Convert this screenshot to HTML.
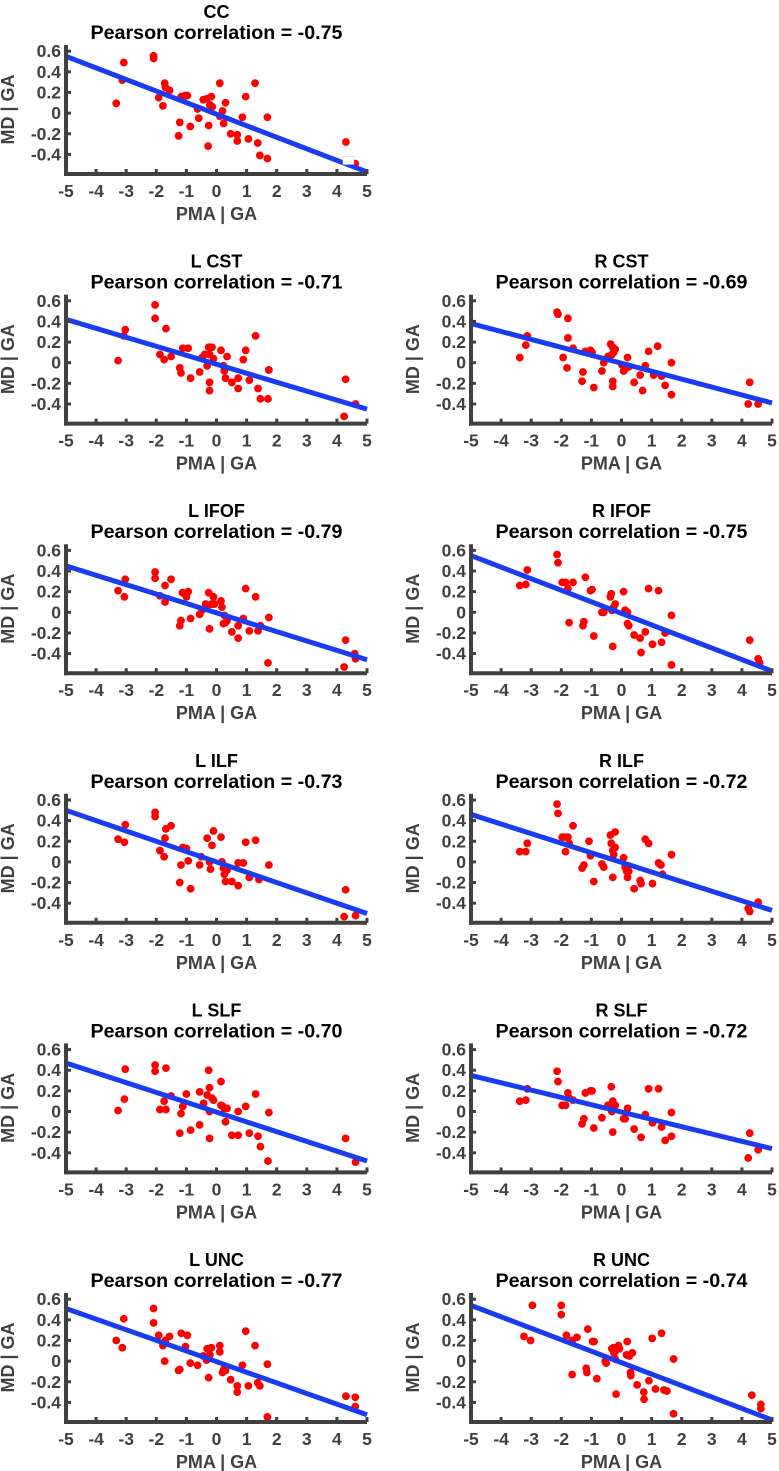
<!DOCTYPE html>
<html><head><meta charset="utf-8"><style>
html,body{margin:0;padding:0;background:#fff;}
svg{display:block;font-family:"Liberation Sans",Arial,sans-serif;font-weight:bold;}
</style></head><body>
<svg id="fig" width="779" height="1471" viewBox="0 0 779 1471" xmlns="http://www.w3.org/2000/svg"></svg>
<script>
// ---- data ----
const xTicks = [-5,-4,-3,-2,-1,0,1,2,3,4,5];
const yTicks = [0.6,0.4,0.2,0,-0.2,-0.4];
const yTickLabels = ["0.6","0.4","0.2","0","-0.2","-0.4"];
const panelNames = ["CC","L CST","R CST","L IFOF","R IFOF","L ILF","R ILF","L SLF","R SLF","L UNC","R UNC"];
const pearsonR = ["-0.75","-0.71","-0.69","-0.79","-0.75","-0.73","-0.72","-0.70","-0.72","-0.77","-0.74"];
const fitAtMinus5 = [0.55,0.42,0.38,0.45,0.55,0.50,0.46,0.47,0.35,0.51,0.54];
const fitAtPlus5 = [-0.57,-0.45,-0.39,-0.46,-0.57,-0.50,-0.47,-0.48,-0.36,-0.52,-0.57];

const ccX=[-3.33,-3.08,-3.13,-2.09,-2.09,-1.92,-1.78,-1.72,-1.7,-1.56,-1.22,-1.26,-1.17,-1.03,-0.97,-0.87,-0.63,-0.59,-0.44,-0.31,-0.26,-0.28,-0.22,-0.17,-0.14,0.11,0.11,0.2,0.24,0.3,0.47,0.69,0.69,0.86,0.97,1.06,1.28,1.37,1.44,1.69,1.69,4.3,4.61];
const ccY=[0.095,0.49,0.32,0.555,0.53,0.15,0.07,0.29,0.25,0.22,-0.09,-0.22,0.16,0.17,0.17,-0.13,0.04,-0.05,0.13,0.14,-0.12,-0.32,0.08,0.16,0.06,0.29,-0.03,0.02,-0.1,0.1,-0.2,-0.21,-0.27,-0.04,0.16,-0.25,0.29,-0.29,-0.41,-0.04,-0.44,-0.28,-0.49];

const lcstX=[-3.27,-3.03,-3.08,-2.04,-2.04,-1.88,-1.74,-1.68,-1.51,-1.22,-1.18,-1.12,-0.94,-0.86,-0.56,-0.48,-0.39,-0.31,-0.26,-0.23,-0.23,-0.23,-0.15,-0.1,0.15,0.23,0.26,0.3,0.35,0.51,0.72,0.72,0.89,0.97,1.09,1.3,1.38,1.46,1.71,1.74,4.24,4.29,4.62];
const lcstY=[0.02,0.32,0.26,0.56,0.43,0.08,0.03,0.33,0.06,-0.05,-0.1,0.14,0.14,-0.15,-0.09,0.05,0.08,-0.03,0.15,0.08,-0.19,-0.27,0.15,0.04,0.12,-0.03,-0.08,-0.15,0.06,-0.19,-0.15,-0.25,0.03,0.12,-0.17,0.26,-0.25,-0.35,-0.35,-0.07,-0.52,-0.16,-0.4];

const rcstX=[-3.38,-3.18,-3.13,-2.14,-2.11,-1.94,-1.81,-1.78,-1.78,-1.61,-1.31,-1.28,-1.2,-1.03,-0.98,-0.92,-0.65,-0.59,-0.45,-0.36,-0.29,-0.26,-0.21,-0.29,-0.29,-0.32,0.01,0.07,0.12,0.2,0.24,0.42,0.62,0.7,0.79,0.9,1.07,1.2,1.33,1.45,1.66,1.66,4.21,4.26,4.54];
const rcstY=[0.05,0.17,0.26,0.49,0.47,0.05,-0.05,0.43,0.24,0.14,-0.18,-0.09,0.11,0.12,0.1,-0.24,-0.08,0,0.06,0.18,0.15,0.1,0.13,-0.18,-0.23,0.08,-0.02,-0.08,-0.06,0.05,-0.04,-0.19,-0.12,-0.27,-0.03,0.11,-0.12,0.16,-0.13,-0.22,-0.31,0,-0.4,-0.19,-0.4];

const lifofX=[-3.27,-3.06,-3.03,-2.04,-2.04,-1.88,-1.71,-1.71,-1.51,-1.22,-1.18,-1.13,-1,-0.94,-0.86,-0.56,-0.48,-0.36,-0.31,-0.26,-0.23,-0.16,-0.1,-0.07,0.15,0.18,0.23,0.26,0.3,0.35,0.51,0.72,0.72,0.89,0.97,1.09,1.3,1.38,1.46,1.71,1.74,4.24,4.29,4.59,4.62];
const lifofY=[0.21,0.15,0.32,0.39,0.33,0.16,0.26,0.1,0.32,-0.13,-0.08,0.19,0.15,0.2,-0.06,-0.02,0.02,0.08,0.06,0.19,-0.16,0.08,0.15,0.08,0.11,0.05,-0.11,-0.03,-0.1,-0.08,-0.19,-0.13,-0.25,-0.06,0.23,-0.18,0.15,-0.18,-0.13,-0.49,-0.05,-0.53,-0.27,-0.4,-0.45];

const rifofX=[-3.38,-3.18,-3.13,-2.14,-2.11,-1.97,-1.86,-1.78,-1.74,-1.61,-1.28,-1.25,-1.2,-1.03,-0.98,-0.92,-0.65,-0.59,-0.37,-0.34,-0.32,-0.26,-0.21,-0.29,0.07,0.12,0.2,0.2,0.24,0.42,0.62,0.65,0.79,0.9,1.03,1.23,1.33,1.45,1.66,1.66,4.26,4.54,4.59];
const rifofY=[0.26,0.27,0.41,0.56,0.48,0.29,0.29,0.23,-0.1,0.29,-0.13,-0.09,0.34,0.21,0.22,-0.23,0,0,0.15,0.18,0.02,0.05,0.08,-0.33,0.2,0.02,0,-0.11,-0.13,-0.22,-0.25,-0.39,-0.19,0.23,-0.31,0.21,-0.29,-0.2,-0.03,-0.51,-0.27,-0.45,-0.49];

const lilfX=[-3.27,-3.06,-3.03,-2.04,-2.04,-1.88,-1.74,-1.71,-1.68,-1.51,-1.22,-1.18,-1.12,-1,-0.94,-0.86,-0.56,-0.51,-0.31,-0.23,-0.2,-0.15,-0.1,0.15,0.18,0.23,0.26,0.3,0.35,0.51,0.72,0.72,0.89,0.97,1.09,1.3,1.41,1.74,4.24,4.29,4.62];
const lilfY=[0.22,0.19,0.36,0.48,0.44,0.11,0.05,0.23,0.32,0.35,-0.2,-0.03,0.14,0.13,0.01,-0.26,-0.03,0.05,0.23,0,-0.07,0.16,0.3,0.24,0,-0.06,-0.12,-0.19,-0.08,-0.19,-0.01,-0.23,-0.01,0.19,-0.15,0.21,-0.17,-0.03,-0.53,-0.27,-0.52];

const rilfX=[-3.38,-3.18,-3.13,-2.14,-2.11,-1.97,-1.89,-1.86,-1.78,-1.74,-1.61,-1.31,-1.25,-1.08,-1.03,-0.92,-0.65,-0.59,-0.37,-0.34,-0.29,-0.26,-0.21,-0.21,-0.29,0.07,0.12,0.17,0.24,0.2,0.42,0.62,0.65,0.79,0.9,1.03,1.23,1.31,1.36,1.66,4.21,4.26,4.54];
const rilfY=[0.1,0.1,0.18,0.56,0.47,0.24,0.24,0.1,0.24,0.18,0.35,-0.06,-0.03,0.2,0.06,-0.19,-0.02,-0.05,0.26,0.18,0.11,0.07,0.14,0.29,-0.15,0.04,-0.05,-0.09,-0.09,-0.15,-0.26,-0.18,-0.21,0.22,0.18,-0.21,-0.01,-0.03,-0.12,0.07,-0.45,-0.48,-0.39];

const lslfX=[-3.27,-3.06,-3.03,-2.04,-2.04,-1.88,-1.74,-1.68,-1.68,-1.51,-1.22,-1.18,-1.12,-1,-0.86,-0.56,-0.56,-0.43,-0.31,-0.26,-0.23,-0.23,-0.23,-0.15,-0.1,0.15,0.15,0.21,0.26,0.3,0.35,0.51,0.72,0.72,0.97,1.09,1.3,1.38,1.46,1.71,1.74,4.29,4.62];
const lslfY=[0.01,0.12,0.41,0.45,0.39,0.02,0.1,0.42,0.02,0.15,-0.21,-0.02,0.05,0.17,-0.18,-0.13,0.19,0.08,0.16,0.4,0.23,0,-0.26,0.13,0.11,0.29,0.06,0.05,0.03,-0.1,0.03,-0.23,-0.23,0,0.05,-0.21,0.17,-0.24,-0.34,-0.48,-0.01,-0.26,-0.49];

const rslfX=[-3.38,-3.18,-3.13,-2.14,-2.11,-1.97,-1.86,-1.78,-1.74,-1.61,-1.31,-1.25,-1.2,-1.03,-0.98,-0.92,-0.65,-0.45,-0.37,-0.34,-0.29,-0.26,-0.21,-0.29,-0.32,0.07,0.12,0.2,0.42,0.65,0.79,0.9,1.03,1.23,1.33,1.45,1.66,1.66,4.21,4.26,4.54];
const rslfY=[0.1,0.11,0.22,0.39,0.29,0.06,0.06,0.18,0.13,0.11,-0.12,-0.07,0.18,0.2,0.2,-0.16,-0.06,0.06,0.06,0.24,0.1,0.06,0.06,-0.2,0,-0.07,-0.07,0.03,-0.17,-0.25,-0.03,0.22,-0.11,0.22,-0.15,-0.28,-0.24,-0.01,-0.45,-0.21,-0.37];

const luncX=[-3.33,-3.13,-3.08,-2.09,-2.09,-1.92,-1.78,-1.72,-1.7,-1.56,-1.22,-1.26,-1.17,-1.03,-0.97,-0.87,-0.63,-0.44,-0.31,-0.26,-0.33,-0.22,-0.17,0.11,0.11,0.2,0.24,0.3,0.47,0.69,0.69,0.86,0.97,1.06,1.28,1.37,1.44,1.69,1.69,4.3,4.61,4.61];
const luncY=[0.2,0.13,0.41,0.51,0.37,0.25,0.15,0,0.2,0.24,-0.08,-0.09,0.27,0.14,0.25,-0.02,-0.04,0.05,0.12,-0.16,0.01,0.06,0.13,0.15,0.09,-0.11,-0.08,-0.09,-0.18,-0.24,-0.3,-0.04,0.29,-0.24,0.15,-0.21,-0.24,-0.03,-0.54,-0.34,-0.35,-0.44];

const runcX=[-3.24,-3.02,-2.96,-2,-2,-1.83,-1.64,-1.64,-1.48,-1.17,-1.15,-1.12,-0.96,-0.91,-0.82,-0.54,-0.51,-0.32,-0.27,-0.25,-0.21,-0.18,-0.16,-0.1,-0.07,0.17,0.19,0.26,0.3,0.31,0.36,0.52,0.74,0.75,0.91,1.02,1.13,1.33,1.41,1.51,1.73,1.73,4.33,4.63,4.63];
const runcY=[0.24,0.2,0.54,0.54,0.45,0.25,-0.13,0.2,0.23,-0.07,-0.11,0.31,0.19,0.19,-0.17,0,-0.02,0.12,0.13,0.08,0.02,-0.32,0.11,0.15,0.12,0.06,0.19,0.05,-0.11,-0.14,0.08,-0.23,-0.3,-0.37,-0.19,0.22,-0.27,0.27,-0.28,-0.29,0.02,-0.51,-0.33,-0.42,-0.46];

const panelXs=[ccX,lcstX,rcstX,lifofX,rifofX,lilfX,rilfX,lslfX,rslfX,luncX,runcX];
const panelYs=[ccY,lcstY,rcstY,lifofY,rifofY,lilfY,rilfY,lslfY,rslfY,luncY,runcY];

// ---- drawing ----
const NS="http://www.w3.org/2000/svg";
const svg=document.getElementById('fig');
const AX_W=301, AX_H=129, Y_TOP=0.66, Y_BOT=-0.59, X_MIN=-5, X_MAX=5;
const GRAY="#404040";
function mk(tag,attrs,parent){const e=document.createElementNS(NS,tag);for(const k in attrs)e.setAttribute(k,attrs[k]);(parent||svg).appendChild(e);return e;}

panelNames.forEach((name,i)=>{
  const row = i===0?0:Math.ceil(i/2);
  const col = i===0?0:((i-1)%2);
  const L = col===0?66:471;
  const T = 45+249.6*row;
  const sx = v => L + (v-X_MIN)/(X_MAX-X_MIN)*AX_W;
  const sy = v => T + (Y_TOP-v)/(Y_TOP-Y_BOT)*AX_H;
  const slug = name.toLowerCase().replace(/\s+/g,'-');
  const g = mk('g',{});
  
  

  const t1 = mk('text',{x:L+AX_W/2,y:T-27,'text-anchor':'middle','font-size':18,fill:'#000'},g);
  t1.textContent=name;
  
  
  const t2 = mk('text',{x:L+AX_W/2,y:T-6,'text-anchor':'middle','font-size':19,fill:'#000',textLength:252,lengthAdjust:'spacingAndGlyphs'},g);
  t2.textContent='Pearson correlation = '+pearsonR[i];
  
  

  const xs=panelXs[i], ys=panelYs[i];
  xs.forEach((xv,j)=>{
    const c=mk('circle',{cx:sx(xv),cy:sy(ys[j]),r:3.9,fill:'#ff0000'},g);
    
    
  });
  const fl=mk('line',{x1:sx(X_MIN),y1:sy(fitAtMinus5[i]),x2:sx(X_MAX),y2:sy(fitAtPlus5[i]),stroke:'#1a3cf0','stroke-width':5,'stroke-linecap':'butt'},g);
  
  

  if(i===0){
    const lg=mk('rect',{x:sx(4.2),y:sy(-0.42),width:11,height:8,fill:'#fff',stroke:'#ccc','stroke-width':0.5},g);
    
    
  }

  const ya=mk('line',{x1:L,y1:T,x2:L,y2:T+AX_H+2,stroke:GRAY,'stroke-width':4},g);
  
  
  const xa=mk('line',{x1:L-2,y1:T+AX_H,x2:L+AX_W,y2:T+AX_H,stroke:GRAY,'stroke-width':4},g);
  
  

  xTicks.forEach(v=>{
    mk('line',{x1:sx(v),y1:T+AX_H,x2:sx(v),y2:T+AX_H-5,stroke:GRAY,'stroke-width':3},g);
    const tl=mk('text',{x:sx(v),y:T+AX_H+23,'text-anchor':'middle','font-size':17.5,fill:GRAY},g);
    tl.textContent=String(v);
    
    
  });
  yTicks.forEach((v,k)=>{
    mk('line',{x1:L,y1:sy(v),x2:L+5,y2:sy(v),stroke:GRAY,'stroke-width':3},g);
    const tl=mk('text',{x:L-5,y:sy(v)+6,'text-anchor':'end','font-size':17.5,fill:GRAY},g);
    tl.textContent=yTickLabels[k];
    
    
  });
  const xl=mk('text',{x:L+AX_W/2,y:T+AX_H+46,'text-anchor':'middle','font-size':18,fill:GRAY},g);
  xl.textContent='PMA | GA';
  
  
  const yx=L-52, yy=T+AX_H/2;
  const yl=mk('text',{x:yx,y:yy,'text-anchor':'middle','font-size':18,fill:GRAY,transform:`rotate(-90 ${yx} ${yy})`},g);
  yl.textContent='MD | GA';
  
  
});
</script>
</body></html>
